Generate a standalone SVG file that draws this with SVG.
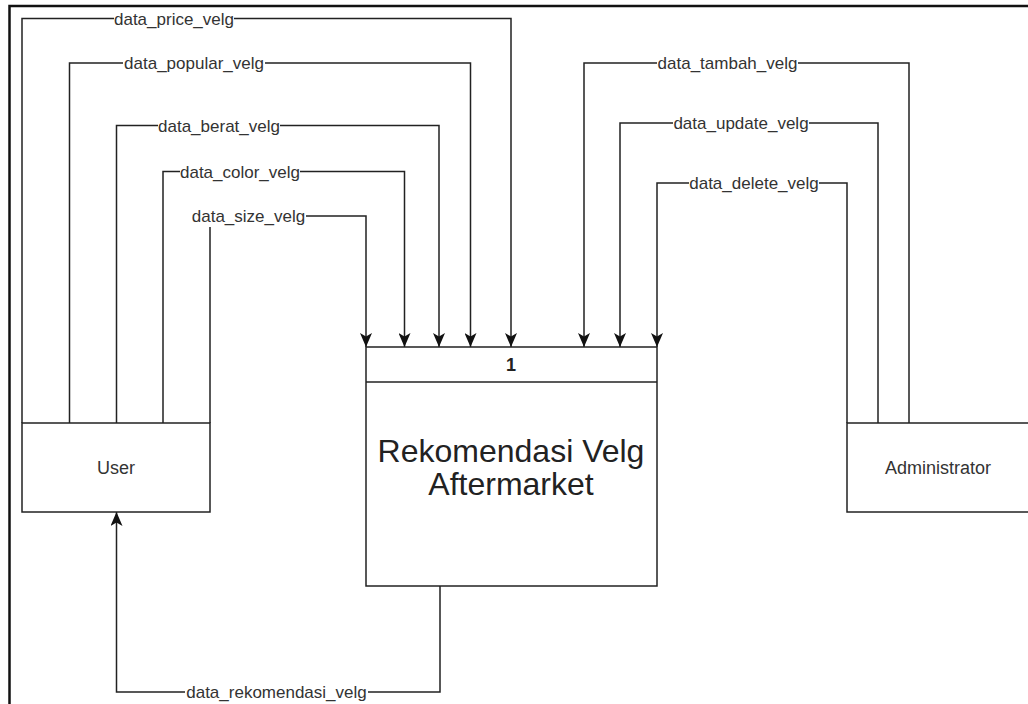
<svg xmlns="http://www.w3.org/2000/svg" width="1028" height="704" viewBox="0 0 1028 704">
  <style>
    .frame { fill: none; stroke: #111; stroke-width: 2.5; }
    .box { fill: #fff; stroke: #222; stroke-width: 1.5; }
    .flow { fill: none; stroke: #222; stroke-width: 1.5; }
    .flow-in { marker-end: url(#arrow); }
    .lbl-bg { fill: #fff; }
    .lbl { font-family: "Liberation Sans", Arial, sans-serif; font-size: 17px; fill: #333; text-anchor: middle; }
    .ent { font-family: "Liberation Sans", Arial, sans-serif; font-size: 18px; fill: #333; text-anchor: middle; }
    .proc-id { font-family: "Liberation Sans", Arial, sans-serif; font-size: 18px; font-weight: bold; fill: #222; text-anchor: middle; }
    .proc-name { font-family: "Liberation Sans", Arial, sans-serif; font-size: 32px; fill: #222; text-anchor: middle; }
  </style>
  <defs>
    <marker id="arrow" viewBox="0 0 14 12" refX="14" refY="6" markerWidth="14" markerHeight="12" markerUnits="userSpaceOnUse" orient="auto">
      <path d="M14,6 L0,0 L3.5,6 L0,12 Z" fill="#111"/>
    </marker>
  </defs>

  <rect width="1028" height="704" fill="#fff"/>
  <path class="frame" d="M9.5,704 V6 H1028"/>

  <!-- data flows -->
  <g id="connectors">
    <path class="flow flow-in" d="M22,423 V18.5 H511 V347"/>
    <path class="flow flow-in" d="M69.5,423 V63 H470.5 V347"/>
    <path class="flow flow-in" d="M116.5,423 V125.5 H439 V347"/>
    <path class="flow flow-in" d="M163,423 V171.5 H404.5 V347"/>
    <path class="flow flow-in" d="M210,423 V216 H366 V347"/>
    <path class="flow flow-in" d="M909,423 V63 H584 V347"/>
    <path class="flow flow-in" d="M878,423 V123 H620 V347"/>
    <path class="flow flow-in" d="M847,423 V183 H657 V347"/>
    <path class="flow flow-in" d="M440,586 V692 H116.5 V512"/>

    <rect class="lbl-bg" x="114" y="9" width="120" height="19"/>
    <text class="lbl" x="174" y="24.5">data_price_velg</text>
    <rect class="lbl-bg" x="123" y="54" width="142" height="19"/>
    <text class="lbl" x="194" y="69">data_popular_velg</text>
    <rect class="lbl-bg" x="158" y="116" width="122" height="19"/>
    <text class="lbl" x="219" y="131.5">data_berat_velg</text>
    <rect class="lbl-bg" x="180" y="162" width="120" height="19"/>
    <text class="lbl" x="240" y="177.5">data_color_velg</text>
    <rect class="lbl-bg" x="191" y="206" width="115" height="21"/>
    <text class="lbl" x="248.5" y="222">data_size_velg</text>
    <rect class="lbl-bg" x="657" y="54" width="141" height="19"/>
    <text class="lbl" x="727.5" y="69">data_tambah_velg</text>
    <rect class="lbl-bg" x="673" y="114" width="136" height="19"/>
    <text class="lbl" x="741" y="129">data_update_velg</text>
    <rect class="lbl-bg" x="689" y="174" width="130" height="19"/>
    <text class="lbl" x="754" y="189">data_delete_velg</text>
    <rect class="lbl-bg" x="185" y="683" width="183" height="19"/>
    <text class="lbl" x="276.5" y="698">data_rekomendasi_velg</text>
  </g>

  <!-- external entity: User -->
  <g id="user">
    <rect class="box" x="22" y="423" width="188" height="89"/>
    <text class="ent" x="116" y="474">User</text>
  </g>

  <!-- external entity: Administrator -->
  <g id="administrator">
    <rect class="box" x="847" y="423" width="188" height="89"/>
    <text class="ent" x="938" y="474">Administrator</text>
  </g>

  <!-- process 1 -->
  <g id="process-1">
    <rect class="box" x="366" y="347" width="291" height="239"/>
    <line class="flow" x1="366" y1="382" x2="657" y2="382"/>
    <text class="proc-id" x="511" y="371">1</text>
    <text class="proc-name" x="511" y="462">Rekomendasi Velg</text>
    <text class="proc-name" x="511" y="495">Aftermarket</text>
  </g>
</svg>
